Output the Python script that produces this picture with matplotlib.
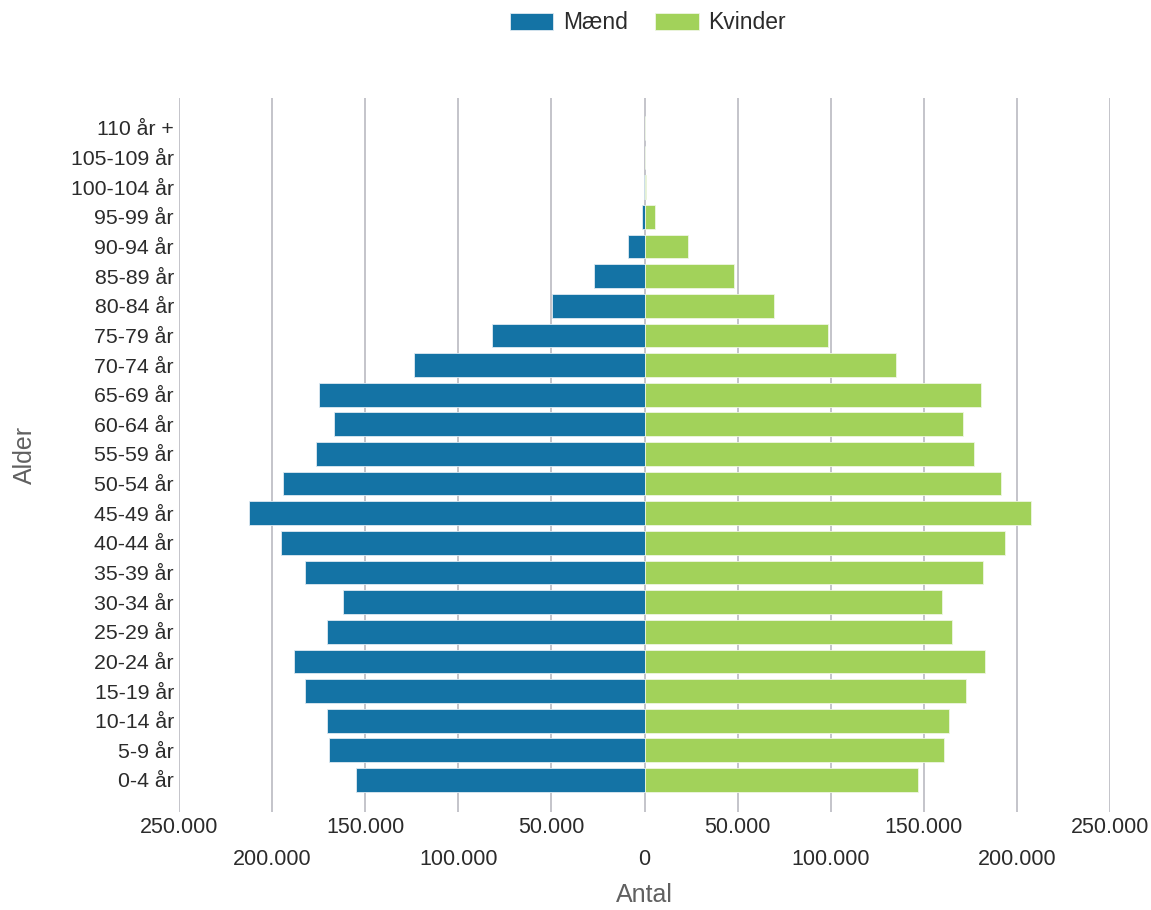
import numpy as np
import matplotlib.pyplot as plt
from matplotlib.ticker import FuncFormatter

plt.rcParams['font.family'] = ['Liberation Sans', 'DejaVu Sans']

aldersgrupper = ["0-4 år", "5-9 år", "10-14 år", "15-19 år", "20-24 år", "25-29 år",
                 "30-34 år", "35-39 år", "40-44 år", "45-49 år", "50-54 år", "55-59 år",
                 "60-64 år", "65-69 år", "70-74 år", "75-79 år", "80-84 år", "85-89 år",
                 "90-94 år", "95-99 år", "100-104 år", "105-109 år", "110 år +"]
maend = [155200, 169200, 170300, 182100, 188500, 170300, 161700, 182100, 195000, 212400,
         193900, 176500, 167000, 174600, 124000, 81900, 49600, 27200, 8800, 1200, 200, 0, 0]
kvinder = [147100, 161100, 163300, 172900, 182600, 165400, 160000, 181600, 193400, 207400,
           191200, 177200, 170800, 180500, 135100, 98500, 69500, 48000, 23300, 5900, 800, 500, 0]

ticks_oeverst = [-250000, -150000, -50000, 50000, 150000, 250000]
ticks_nederst = [-200000, -100000, 0, 100000, 200000]

blaa = "#1473a5"
groen = "#a2d25a"
tekst = "#2b2b2b"

fig = plt.figure(figsize=(11.51, 9.10), dpi=100)
ax = fig.add_axes([179 / 1151, 1 - 812 / 910, (1110 - 179) / 1151, (812 - 98) / 910])

y = np.arange(len(aldersgrupper))
b1 = ax.barh(y, -np.array(maend), height=0.8, color=blaa, edgecolor="#dfeaf2",
             linewidth=0.6, label="Mænd", zorder=3)
b2 = ax.barh(y, kvinder, height=0.8, color=groen, edgecolor="#eef6e2",
             linewidth=0.6, label="Kvinder", zorder=3)

ax.set_xlim(-250000, 250000)
ax.set_ylim(-1.08, 23.01)
ax.set_yticks(y)
ax.set_yticklabels(aldersgrupper, fontsize=15.3, color=tekst)

fmt = FuncFormatter(lambda v, p: f"{abs(int(v)):,}".replace(",", "."))
ax.set_xticks(ticks_oeverst)
ax.set_xticks(ticks_nederst, minor=True)
ax.xaxis.set_major_formatter(fmt)
ax.xaxis.set_minor_formatter(fmt)
ax.tick_params(axis="x", which="major", length=0, pad=3.6, labelsize=15.5, labelcolor=tekst)
ax.tick_params(axis="x", which="minor", length=0, pad=26.6, labelsize=15.5, labelcolor=tekst)
ax.tick_params(axis="y", length=0, pad=3.6)
ax.grid(axis="x", which="both", color="#c4c4ca", linewidth=1.4, zorder=0)
for s in ax.spines.values():
    s.set_visible(False)

ax.set_ylabel("Alder", fontsize=18, color="#606060")
ax.yaxis.set_label_coords(-0.153, 0.5)
ax.set_xlabel("Antal", fontsize=18, color="#606060")
ax.xaxis.set_label_coords(0.5, -0.099)

fig.legend(handles=[b1, b2], loc="upper center", bbox_to_anchor=(648 / 1151, 1.005),
           ncol=2, frameon=False, fontsize=16.5, handlelength=1.9, handleheight=0.78,
           handletextpad=0.43, columnspacing=1.17, borderpad=0.2, labelcolor=tekst)

fig.savefig("out.png", dpi=100)
